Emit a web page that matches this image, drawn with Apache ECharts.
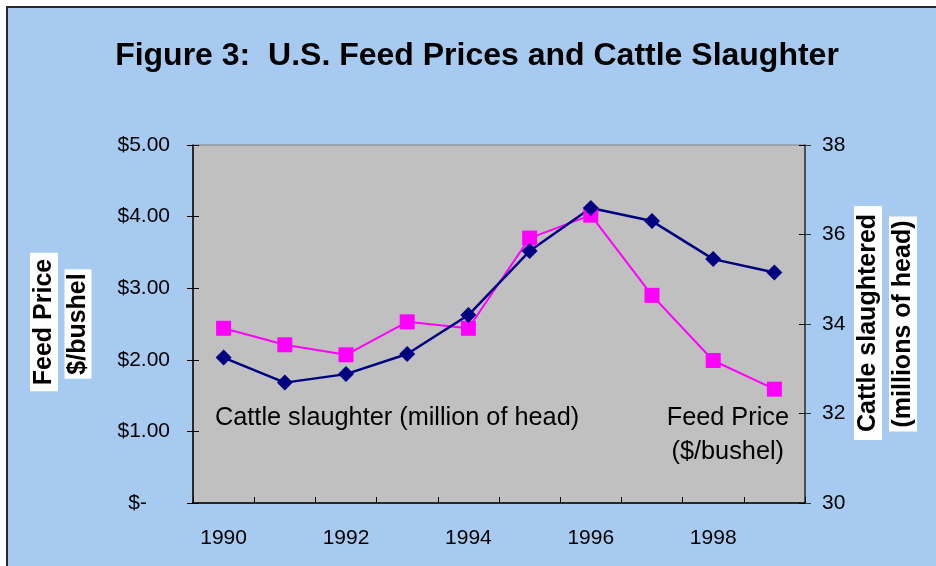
<!DOCTYPE html>
<html>
<head>
<meta charset="utf-8">
<script src="https://cdn.jsdelivr.net/npm/echarts@6/dist/echarts.min.js"></script>
<style>
  html, body { margin: 0; padding: 0; background: #fff; }
  #frame {
    position: absolute; left: 6px; top: 6px; width: 960px; height: 600px;
    background: #A6CAF0; border-left: 2px solid #2a2a2a; border-top: 2px solid #2a2a2a;
  }
  #chart { position: absolute; left: 0; top: 0; width: 936px; height: 566px; }
</style>
</head>
<body>
<div id="frame"></div>
<div id="chart"></div>
<script>
// data
const years = ['1990', '1991', '1992', '1993', '1994', '1995', '1996', '1997', '1998', '1999'];
const feedPrice = [2.44, 2.21, 2.07, 2.53, 2.44, 3.70, 4.02, 2.90, 1.99, 1.59];          // $/bushel, left axis
const cattleSlaughter = [33.25, 32.69, 32.88, 33.33, 34.20, 35.63, 36.59, 36.30, 35.45, 35.15]; // million head, right axis

const FONT = "'Liberation Sans', Arial, sans-serif";

// Excel style "cross" ticks: outer ticks on the main axes, inner ticks on twin axes
function tickAxis(base, inside) {
  return Object.assign({}, base, {
    axisLine: { show: false },
    axisLabel: { show: false },
    axisTick: { show: true, inside: inside, length: 6, lineStyle: { color: '#000', width: 1 } },
    splitLine: { show: false }
  });
}

const leftBase = { type: 'value', min: 0, max: 5, interval: 1, position: 'left' };
const rightBase = { type: 'value', min: 30, max: 38, interval: 2, position: 'right' };

let options = {
  animation: false,
  textStyle: { fontFamily: FONT },
  grid: {
    left: 193, right: 131, top: 145, bottom: 63,
    show: true, backgroundColor: '#C0C0C0', borderColor: '#808080', borderWidth: 1
  },
  xAxis: [
    {
      type: 'category',
      data: years,
      boundaryGap: true,
      position: 'bottom',
      axisLine: { lineStyle: { color: '#000', width: 1.5 } },
      axisTick: { interval: 0, length: 6, lineStyle: { color: '#000' } },
      axisLabel: { interval: 1, color: '#000', fontSize: 21, margin: 25, fontFamily: FONT }
    },
    tickAxis({ type: 'category', data: years, boundaryGap: true, position: 'bottom' }, true)
  ],
  yAxis: [
    Object.assign({}, leftBase, {
      axisLine: { show: true, lineStyle: { color: '#000', width: 1.5 } },
      axisTick: { show: true, length: 6, lineStyle: { color: '#000' } },
      splitLine: { show: false },
      axisLabel: {
        color: '#000', fontSize: 21, margin: 23, fontFamily: FONT,
        formatter: function (v) { return v === 0 ? '{z|$-}' : '$' + v.toFixed(2); },
        rich: { z: { fontSize: 21, color: '#000', fontFamily: FONT, padding: [0, 23, 0, 0] } }
      }
    }),
    Object.assign({}, rightBase, {
      axisLine: { show: true, lineStyle: { color: '#333', width: 1.5 } },
      axisTick: { show: true, length: 6, lineStyle: { color: '#333' } },
      splitLine: { show: false },
      axisLabel: { color: '#000', fontSize: 21, margin: 17, fontFamily: FONT }
    }),
    tickAxis(leftBase, true),
    tickAxis(rightBase, true)
  ],
  series: [
    {
      name: 'Feed Price',
      type: 'line',
      data: feedPrice,
      yAxisIndex: 0,
      symbol: 'rect',
      symbolSize: 15,
      showAllSymbol: true,
      lineStyle: { color: '#FF00FF', width: 2 },
      itemStyle: { color: '#FF00FF', borderWidth: 0 }
    },
    {
      name: 'Cattle slaughter',
      type: 'line',
      data: cattleSlaughter,
      yAxisIndex: 1,
      symbol: 'diamond',
      symbolSize: 16,
      showAllSymbol: true,
      lineStyle: { color: '#000080', width: 2.5 },
      itemStyle: { color: '#000080', borderWidth: 0 }
    }
  ],
  graphic: [
    {
      type: 'text', x: 477, y: 56,
      style: { text: 'Figure 3:  U.S. Feed Prices and Cattle Slaughter', font: 'bold 32px ' + FONT,
               fill: '#000', align: 'center', verticalAlign: 'middle' }
    },
    {
      type: 'text', x: 215, y: 418,
      style: { text: 'Cattle slaughter (million of head)', font: '25.3px ' + FONT,
               fill: '#000', align: 'left', verticalAlign: 'middle' }
    },
    {
      type: 'text', x: 789, y: 418,
      style: { text: 'Feed Price', font: '25.3px ' + FONT, fill: '#000', align: 'right', verticalAlign: 'middle' }
    },
    {
      type: 'text', x: 784, y: 452,
      style: { text: '($/bushel)', font: '25.3px ' + FONT, fill: '#000', align: 'right', verticalAlign: 'middle' }
    },
    // axis titles in white boxes, reading bottom to top
    {
      type: 'text', x: 44, y: 322, rotation: Math.PI / 2,
      style: { text: 'Feed Price', font: 'bold 25px ' + FONT, fill: '#000', align: 'center', verticalAlign: 'middle',
               backgroundColor: '#fff', padding: [1, 6, 1, 6], lineHeight: 26 }
    },
    {
      type: 'text', x: 78, y: 324, rotation: Math.PI / 2,
      style: { text: '$/bushel', font: 'bold 25px ' + FONT, fill: '#000', align: 'center', verticalAlign: 'middle',
               backgroundColor: '#fff', padding: [1, 4, 1, 4], lineHeight: 25 }
    },
    {
      type: 'text', x: 868, y: 323, rotation: Math.PI / 2,
      style: { text: 'Cattle slaughtered', font: 'bold 25px ' + FONT, fill: '#000', align: 'center', verticalAlign: 'middle',
               backgroundColor: '#fff', padding: [1, 8, 1, 8], lineHeight: 26 }
    },
    {
      type: 'text', x: 903, y: 324, rotation: Math.PI / 2,
      style: { text: '(millions of head)', font: 'bold 25px ' + FONT, fill: '#000', align: 'center', verticalAlign: 'middle',
               backgroundColor: '#fff', padding: [1, 4, 1, 4], lineHeight: 26 }
    }
  ]
};

let myChart = echarts.init(document.getElementById('chart'), null, { renderer: 'canvas' });
myChart.setOption(options);
</script>
</body>
</html>
